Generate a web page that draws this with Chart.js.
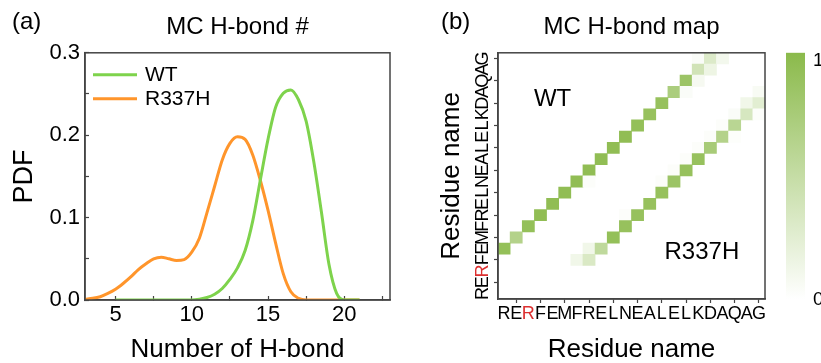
<!DOCTYPE html>
<html>
<head>
<meta charset="utf-8">
<title>MC H-bond</title>
<script src="https://cdn.jsdelivr.net/npm/chart.js@4.4.1/dist/chart.umd.min.js"></script>
<style>
  html, body { margin: 0; padding: 0; background: #fff; }
  #wrap { position: relative; width: 821px; height: 363px; overflow: hidden; background: #fff; }
  #pdf { position: absolute; left: 0; top: 0; }
  #map { position: absolute; left: 420px; top: 0; }
</style>
</head>
<body>
<div id="wrap">
  <canvas id="pdf" width="420" height="363"></canvas>
  <canvas id="map" width="401" height="363"></canvas>
</div>
<script>
const FONT = "'Liberation Sans', Arial, Helvetica, sans-serif";
const INK = '#000';
const FRAME = '#444';

// ---- (a) distribution of main-chain H-bond counts ----
const hbondCount = [3, 3.5, 4, 4.5, 5, 5.5, 6, 6.5, 7, 7.5, 8, 8.5, 9, 9.5, 10, 10.5,
  11, 11.5, 12, 12.5, 13, 13.5, 14, 14.5, 15, 15.5, 16, 16.5, 17, 17.5, 18, 18.5,
  19, 19.5, 20, 20.5, 21];
const pdfWT = [null, null, null, null, 0, 0, 0, 0, 0, 0, 0, 0, 0, 0, 0, 0.001,
  0.003, 0.007, 0.014, 0.025, 0.039, 0.06, 0.096, 0.146, 0.195, 0.234, 0.251, 0.255, 0.243, 0.217, 0.168, 0.107,
  0.043, 0.008, 0, 0, 0];
const pdfR337H = [0.001, 0.002, 0.004, 0.008, 0.013, 0.02, 0.028, 0.037, 0.044, 0.05, 0.052, 0.05, 0.048, 0.049, 0.058, 0.075,
  0.106, 0.138, 0.17, 0.19, 0.198, 0.195, 0.176, 0.145, 0.109, 0.069, 0.032, 0.01, 0.002, 0, 0, 0,
  0, 0, 0, 0, 0];
const seriesNames = ['WT', 'R337H'];
const seriesColors = ['#7ed34c', '#ff952b'];
const xTickValues = [5, 7.5, 10, 12.5, 15, 17.5, 20, 22.5];
const yTickValues = [0, 0.05, 0.1, 0.15, 0.2, 0.25, 0.3];

// ---- (b) main-chain H-bond occupancy map ----
const residues = ['R', 'E', 'R', 'F', 'E', 'M', 'F', 'R', 'E', 'L', 'N', 'E', 'A', 'L', 'E', 'L', 'K', 'D', 'A', 'Q', 'A', 'G'];
const highlightedResidue = 2;
// [donor residue index, acceptor residue index, occupancy]
const wtContacts = [
  [0, 4, 0.92], [1, 5, 0.65], [2, 6, 0.92], [3, 7, 0.95], [4, 8, 0.95], [5, 9, 0.95],
  [6, 10, 0.95], [7, 11, 0.95], [8, 12, 0.95], [9, 13, 0.95], [10, 14, 0.95], [11, 15, 0.92],
  [12, 16, 0.9], [13, 17, 0.9], [14, 18, 0.72], [15, 19, 0.85], [16, 20, 0.4], [17, 21, 0.3],
  [16, 21, 0.04], [18, 21, 0.1], [17, 20, 0.15], [16, 19, 0.08], [15, 18, 0.04], [7, 10, 0.03]
];
const r337hContacts = [
  [6, 3, 0.12], [7, 3, 0.32], [7, 4, 0.12], [8, 4, 0.55], [9, 5, 0.92], [10, 6, 0.9],
  [11, 7, 0.9], [12, 8, 0.9], [13, 9, 0.9], [14, 10, 0.85], [15, 11, 0.9], [16, 12, 0.9],
  [17, 13, 0.75], [18, 14, 0.65], [19, 15, 0.6], [20, 16, 0.35], [21, 17, 0.25],
  [20, 17, 0.12], [21, 18, 0.06], [21, 16, 0.03], [19, 16, 0.04], [18, 15, 0.03], [19, 14, 0.02],
  [17, 14, 0.03], [16, 13, 0.03], [15, 12, 0.03], [14, 11, 0.03], [13, 10, 0.03], [10, 7, 0.03]
];
const colorbarTicks = [0, 1];
const mapLabels = [
  { text: 'WT', col: 4.0, row: 17.8 },
  { text: 'R337H', col: 16.3, row: 4.2 }
];

const HIGH = [139, 186, 75];
function shade(v) {
  const c = HIGH.map(h => Math.round(255 + (h - 255) * v));
  return `rgb(${c[0]},${c[1]},${c[2]})`;
}

// box around the plotting area
const framePlugin = {
  id: 'frame',
  afterDraw(chart) {
    const { ctx, chartArea: a } = chart;
    ctx.save();
    ctx.strokeStyle = FRAME;
    ctx.lineWidth = 1.5;
    ctx.strokeRect(a.left, a.top, a.right - a.left, a.bottom - a.top);
    ctx.restore();
  }
};

// "(a)" / "(b)" panel tags
function panelTag(text, x, y) {
  return {
    id: 'panelTag',
    afterDraw(chart) {
      const ctx = chart.ctx;
      ctx.save();
      ctx.font = `24px ${FONT}`;
      ctx.fillStyle = INK;
      ctx.textBaseline = 'middle';
      ctx.textAlign = 'left';
      ctx.fillText(text, x, y);
      ctx.restore();
    }
  };
}

// line legend inside the plotting area
const lineLegend = {
  id: 'lineLegend',
  afterDraw(chart) {
    const { ctx, chartArea: a } = chart;
    ctx.save();
    ctx.font = `21px ${FONT}`;
    ctx.textBaseline = 'middle';
    ctx.textAlign = 'left';
    chart.data.datasets.forEach((ds, i) => {
      const y = a.top + 22 + i * 24;
      ctx.strokeStyle = ds.borderColor;
      ctx.lineWidth = 3;
      ctx.beginPath();
      ctx.moveTo(a.left + 8, y);
      ctx.lineTo(a.left + 52, y);
      ctx.stroke();
      ctx.fillStyle = INK;
      ctx.fillText(ds.label, a.left + 60, y);
    });
    ctx.restore();
  }
};

const titleFont = { family: FONT, size: 24, weight: 'normal', lineHeight: 1.2 };

new Chart(document.getElementById('pdf'), {
  type: 'line',
  data: {
    datasets: [pdfWT, pdfR337H].map((vals, k) => ({
      label: seriesNames[k],
      data: hbondCount.map((x, i) => ({ x, y: vals[i] })),
      borderColor: seriesColors[k],
      backgroundColor: seriesColors[k],
      borderWidth: 3,
      pointRadius: 0,
      fill: false,
      cubicInterpolationMode: 'monotone'
    }))
  },
  options: {
    responsive: false,
    animation: false,
    devicePixelRatio: 1,
    layout: { padding: { left: 0, right: 30, top: 0, bottom: 0 } },
    plugins: {
      legend: { display: false },
      tooltip: { enabled: false },
      title: {
        display: true,
        text: 'MC H-bond #',
        color: INK,
        fullSize: false,
        font: titleFont,
        padding: { top: 13, bottom: 11 }
      }
    },
    scales: {
      x: {
        type: 'linear',
        min: 3,
        max: 23,
        afterBuildTicks: s => { s.ticks = xTickValues.map(v => ({ value: v })); },
        afterFit: s => { s.height = 63; },
        ticks: {
          autoSkip: false,
          maxRotation: 0,
          padding: 6,
          color: INK,
          font: { family: FONT, size: 22, lineHeight: 1.2 },
          callback: v => (v % 5 === 0 ? String(v) : '')
        },
        grid: { drawOnChartArea: false, tickLength: -4, tickColor: FRAME, tickWidth: 1.2 },
        border: { color: FRAME, width: 1.5 },
        title: {
          display: true,
          text: 'Number of H-bond',
          color: INK,
          font: { family: FONT, size: 26, lineHeight: 1 },
          padding: { top: 2, bottom: 0 }
        }
      },
      y: {
        type: 'linear',
        min: 0,
        max: 0.3,
        afterBuildTicks: s => { s.ticks = yTickValues.map(v => ({ value: v })); },
        afterFit: s => { s.width = 85; },
        ticks: {
          autoSkip: false,
          padding: 9,
          color: INK,
          font: { family: FONT, size: 22, lineHeight: 1.2 },
          callback: v => (Math.round(v * 100) % 10 === 0 ? v.toFixed(1) : '')
        },
        grid: { drawOnChartArea: false, tickLength: -4, tickColor: FRAME, tickWidth: 1.2 },
        border: { color: FRAME, width: 1.5 },
        title: {
          display: true,
          text: 'PDF',
          color: INK,
          font: { family: FONT, size: 27, lineHeight: 1 },
          padding: { top: 11, bottom: 0 }
        }
      }
    }
  },
  plugins: [framePlugin, lineLegend, panelTag('(a)', 12, 22)]
});

// occupancy grid indexed [row][col]
const grid = residues.map(() => residues.map(() => 0));
wtContacts.concat(r337hContacts).forEach(([c, r, v]) => { grid[r][c] = v; });

const rowDatasets = residues.map((_, r) => ({
  label: 'row ' + r,
  data: residues.map((__, c) => (grid[r][c] > 0 ? [r, r + 1] : null)),
  backgroundColor: residues.map((__, c) => shade(grid[r][c])),
  borderWidth: 0,
  grouped: false,
  barPercentage: 1,
  categoryPercentage: 1
}));

const tickInk = ctx => (ctx.index === highlightedResidue ? '#dc2f2f' : INK);
const oddTick = ctx => (ctx.index % 2 === 1 ? FRAME : 'rgba(0,0,0,0)');

// colour bar and in-plot labels
const mapDecor = {
  id: 'mapDecor',
  afterDraw(chart) {
    const { ctx, chartArea: a, scales } = chart;
    ctx.save();
    const x0 = a.right + 21, w = 19;
    const g = ctx.createLinearGradient(0, a.bottom, 0, a.top);
    g.addColorStop(0, shade(colorbarTicks[0]));
    g.addColorStop(1, shade(colorbarTicks[1]));
    ctx.fillStyle = g;
    ctx.fillRect(x0, a.top, w, a.bottom - a.top);
    ctx.font = `19px ${FONT}`;
    ctx.fillStyle = INK;
    ctx.textAlign = 'left';
    ctx.textBaseline = 'middle';
    ctx.fillText(String(colorbarTicks[1]), x0 + 27, a.top + 8);
    ctx.fillText(String(colorbarTicks[0]), x0 + 27, a.bottom + 1);
    ctx.font = `24px ${FONT}`;
    ctx.textAlign = 'center';
    mapLabels.forEach(l => {
      ctx.fillText(l.text, scales.x.getPixelForValue(l.col), scales.y.getPixelForValue(l.row));
    });
    ctx.restore();
  }
};

new Chart(document.getElementById('map'), {
  type: 'bar',
  data: { labels: residues, datasets: rowDatasets },
  options: {
    responsive: false,
    animation: false,
    devicePixelRatio: 1,
    layout: { padding: { left: 0, right: 56, top: 0, bottom: 0 } },
    plugins: {
      legend: { display: false },
      tooltip: { enabled: false },
      title: {
        display: true,
        text: 'MC H-bond map',
        color: INK,
        fullSize: false,
        font: titleFont,
        padding: { top: 13, bottom: 11 }
      }
    },
    scales: {
      x: {
        type: 'category',
        offset: true,
        afterFit: s => { s.height = 64; },
        ticks: {
          autoSkip: false,
          minRotation: 0,
          maxRotation: 0,
          padding: 0,
          color: tickInk,
          font: { family: FONT, size: 18, lineHeight: 1.2 }
        },
        grid: { offset: false, drawOnChartArea: false, tickLength: 4, tickColor: oddTick, tickWidth: 1.2 },
        border: { color: FRAME, width: 1.5 },
        title: {
          display: true,
          text: 'Residue name',
          color: INK,
          font: { family: FONT, size: 26, lineHeight: 1 },
          padding: { top: 2, bottom: 0 }
        }
      },
      y: {
        type: 'linear',
        min: 0,
        max: residues.length,
        afterBuildTicks: s => { s.ticks = residues.map((_, i) => ({ value: i + 0.5 })); },
        afterFit: s => { s.width = 78; },
        ticks: {
          autoSkip: false,
          minRotation: 90,
          maxRotation: 90,
          crossAlign: 'center',
          padding: 3,
          color: tickInk,
          font: { family: FONT, size: 18, lineHeight: 1.2 },
          callback: v => residues[Math.floor(v)]
        },
        grid: { drawOnChartArea: false, tickLength: 4, tickColor: oddTick, tickWidth: 1.2 },
        border: { color: FRAME, width: 1.5 },
        title: {
          display: true,
          text: 'Residue name',
          color: INK,
          font: { family: FONT, size: 26, lineHeight: 1 },
          padding: { top: 19, bottom: 0 }
        }
      }
    }
  },
  plugins: [framePlugin, mapDecor, panelTag('(b)', 21, 22)]
});
</script>
</body>
</html>
